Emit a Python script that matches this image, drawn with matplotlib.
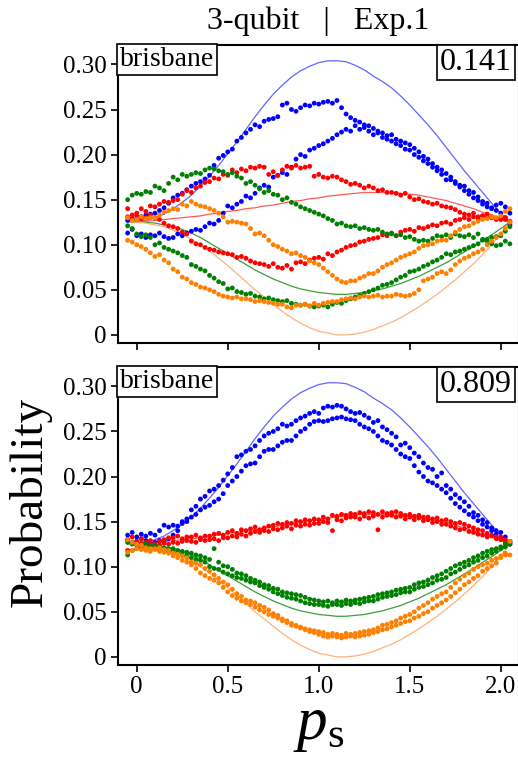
import numpy as np
import matplotlib
matplotlib.use('Agg')
import matplotlib.pyplot as plt

plt.rcParams['font.family'] = 'Liberation Serif'
plt.rcParams['mathtext.fontset'] = 'custom'
plt.rcParams['mathtext.rm'] = 'Liberation Serif'
plt.rcParams['mathtext.it'] = 'Liberation Serif:italic'

# measured probabilities (x1000), p_s from -0.05 to 2.05 in steps of 0.025
top_blue_a = [127, 129,
    128, 131, 133, 134, 135, 138, 141, 146,
    152, 155, 157, 161, 165, 168, 170, 173,
    177, 188, 196, 199, 203, 206, 215, 219,
    224, 228, 233, 231, 237, 239, 240, 242,
    255, 257, 250, 248, 252, 255, 254, 257,
    256, 258, 259, 257, 260, 252, 245, 241,
    238, 236, 233, 232, 229, 226, 224, 221,
    222, 217, 215, 213, 211, 207, 203, 198,
    195, 190, 186, 183, 179, 172, 168, 164,
    160, 156, 152, 149, 145, 142, 140, 144,
    146, 142, 135]
top_blue_b = [113, 117,
    110, 112, 108, 111, 110, 113, 109, 107,
    108, 112, 110, 113, 115, 117, 116, 120,
    124, 123, 127, 135, 143, 141, 145, 148,
    154, 152, 157, 163, 166, 164, 175, 177,
    180, 178, 186, 195, 200, 198, 205, 207,
    210, 212, 215, 218, 222, 225, 228, 226,
    232, 228, 230, 226, 222, 224, 219, 217,
    215, 212, 210, 206, 205, 200, 197, 193,
    190, 186, 182, 178, 172, 175, 170, 166,
    165, 160, 158, 153, 148, 146, 141, 138,
    135, 130, 122]
top_red_a = [140, 133,
    135, 140, 137, 143, 142, 145, 148, 147,
    149, 150, 156, 160, 158, 163, 165, 169,
    170, 174, 173, 178, 177, 183, 180, 184,
    182, 186, 185, 187, 186, 178, 181, 177,
    183, 187, 185, 188, 185, 186, 187, 176,
    178, 175, 174, 176, 175, 172, 170, 167,
    168, 166, 163, 165, 163, 160, 161, 158,
    158, 157, 155, 157, 153, 150, 151, 148,
    147, 145, 146, 143, 142, 141, 139, 136,
    134, 133, 135, 131, 132, 134, 130, 128,
    128, 130, 125]
top_red_b = [131, 128,
    132, 129, 130, 133, 130, 128, 124, 121,
    120, 118, 114, 112, 104, 101, 100, 97,
    95, 94, 92, 91, 90, 89, 86, 87,
    85, 82, 80, 79, 78, 76, 79, 75,
    74, 77, 73, 80, 81, 79, 83, 85,
    86, 84, 90, 88, 92, 94, 97, 99,
    100, 103, 104, 106, 107, 108, 111, 110,
    112, 110, 114, 116, 117, 115, 119, 118,
    120, 122, 121, 124, 125, 123, 127, 128,
    130, 128, 131, 129, 132, 130, 131, 129,
    130, 128, 126]
top_green_a = [150, 155,
    157, 156, 159, 158, 165, 163, 160, 168,
    175, 172, 178, 176, 178, 180, 179, 183,
    185, 184, 182, 181, 178, 180, 176, 174,
    168, 170, 166, 162, 158, 160, 156, 155,
    150, 152, 147, 145, 142, 140, 138, 136,
    134, 132, 129, 127, 123, 124, 121, 120,
    121, 118, 119, 117, 116, 117, 114, 112,
    113, 110, 111, 108, 109, 106, 104, 105,
    104, 107, 110, 109, 111, 108, 112, 110,
    109, 111, 108, 112, 106, 104, 101, 99,
    100, 104, 101]
top_green_b = [121, 118,
    112, 109, 111, 108, 100, 102, 97, 95,
    93, 91, 88, 86, 78, 76, 73, 71,
    66, 63, 59, 57, 51, 52, 48, 47,
    45, 46, 43, 42, 40, 41, 39, 38,
    37, 38, 35, 34, 33, 34, 32, 31,
    32, 33, 31, 34, 36, 35, 38, 40,
    42, 44, 46, 48, 50, 52, 55, 56,
    58, 61, 64, 66, 70, 71, 73, 76,
    78, 81, 83, 86, 90, 89, 92, 93,
    95, 97, 99, 101, 105, 106, 108, 109,
    110, 115, 120]
top_orange_a = [130, 127,
    128, 131, 129, 130, 130, 133, 136, 138,
    140, 139, 145, 143, 148, 145, 143, 142,
    140, 138, 135, 131, 125, 126, 125, 124,
    123, 118, 112, 113, 110, 105, 100, 98,
    95, 93, 90, 91, 88, 86, 82, 80,
    78, 74, 70, 66, 62, 59, 58, 60,
    60, 63, 65, 68, 68, 71, 75, 78,
    80, 83, 86, 88, 90, 92, 96, 99,
    100, 101, 104, 105, 105, 110, 114, 117,
    120, 121, 124, 126, 128, 129, 131, 130,
    132, 137, 140]
top_orange_b = [105, 103,
    100, 98, 95, 91, 87, 89, 83, 80,
    73, 70, 64, 62, 58, 56, 53, 52,
    50, 48, 45, 43, 42, 41, 42, 40,
    40, 39, 37, 38, 37, 36, 35, 34,
    34, 31, 30, 33, 33, 34, 32, 35,
    33, 35, 36, 37, 37, 39, 40, 41,
    40, 42, 43, 42, 43, 44, 42, 43,
    43, 45, 44, 43, 44, 46, 50, 60,
    62, 64, 68, 70, 68, 72, 78, 82,
    85, 87, 90, 92, 95, 100, 104, 108,
    112, 118, 125]

bot_blue_a = [135, 138,
    133, 136, 134, 137, 135, 140, 146, 144,
    146, 145, 150, 153, 163, 167, 175, 178,
    184, 186, 190, 196, 203, 210, 222, 224,
    228, 230, 234, 240, 245, 248, 250, 253,
    258, 256, 258, 262, 265, 267, 270, 272,
    270, 276, 278, 277, 279, 278, 275, 272,
    270, 271, 268, 265, 260, 262, 255, 252,
    248, 244, 235, 237, 232, 226, 222, 215,
    210, 208, 200, 204, 190, 186, 180, 176,
    172, 167, 160, 157, 152, 149, 143, 140,
    138, 133, 128]
bot_blue_b = [130, 127,
    128, 131, 129, 126, 127, 129, 128, 131,
    135, 140, 148, 150, 155, 158, 163, 166,
    168, 172, 175, 181, 190, 195, 200, 206,
    212, 214, 215, 222, 228, 230, 230, 234,
    238, 240, 240, 245, 250, 253, 258, 261,
    262, 261, 262, 264, 265, 266, 264, 263,
    262, 258, 255, 253, 250, 245, 240, 238,
    235, 230, 225, 222, 220, 212, 205, 200,
    195, 193, 190, 186, 182, 176, 170, 166,
    162, 158, 155, 151, 147, 144, 140, 136,
    132, 128, 125]
bot_red_a = [130, 133,
    128, 131, 127, 129, 125, 128, 130, 132,
    132, 134, 131, 133, 133, 135, 132, 134,
    134, 136, 137, 135, 138, 140, 137, 141,
    140, 142, 144, 141, 143, 145, 146, 148,
    147, 149, 148, 151, 150, 152, 151, 153,
    152, 155, 153, 157, 156, 158, 157, 159,
    158, 160, 159, 161, 160, 158, 161, 159,
    160, 161, 159, 157, 158, 156, 157, 155,
    155, 153, 154, 151, 152, 150, 148, 149,
    147, 145, 143, 141, 140, 137, 135, 133,
    133, 130, 128]
bot_red_b = [118, 126,
    124, 126, 123, 125, 122, 124, 126, 125,
    127, 126, 128, 129, 128, 127, 130, 129,
    130, 131, 129, 132, 132, 134, 133, 136,
    134, 137, 139, 138, 140, 139, 142, 141,
    143, 145, 142, 146, 145, 147, 146, 148,
    148, 150, 149, 140, 152, 151, 154, 155,
    155, 153, 156, 154, 156, 141, 155, 157,
    157, 155, 156, 153, 155, 152, 154, 151,
    152, 149, 150, 147, 147, 145, 143, 141,
    142, 139, 138, 136, 135, 133, 134, 131,
    130, 128, 126]
bot_green_a = [127, 125,
    125, 124, 126, 123, 123, 122, 121, 120,
    120, 118, 117, 116, 115, 113, 112, 110,
    108, 120, 105, 101, 100, 97, 93, 92,
    90, 87, 85, 83, 80, 79, 76, 75,
    72, 71, 70, 69, 68, 66, 64, 63,
    62, 61, 62, 60, 62, 61, 63, 62,
    63, 64, 65, 66, 67, 69, 70, 71,
    72, 74, 75, 76, 77, 80, 82, 83,
    85, 88, 90, 92, 95, 98, 101, 103,
    105, 107, 110, 112, 115, 117, 119, 120,
    122, 125, 127]
bot_green_b = [113, 118,
    120, 121, 119, 120, 120, 118, 119, 117,
    117, 115, 113, 112, 110, 108, 107, 105,
    100, 98, 97, 94, 92, 90, 88, 87,
    85, 83, 82, 79, 77, 75, 72, 70,
    68, 66, 65, 64, 62, 60, 59, 58,
    58, 57, 56, 58, 58, 57, 59, 58,
    60, 59, 61, 62, 62, 64, 66, 67,
    68, 69, 71, 72, 72, 75, 77, 78,
    80, 82, 85, 86, 88, 92, 94, 97,
    100, 102, 105, 107, 110, 112, 115, 117,
    120, 122, 125]
bot_orange_a = [130, 127,
    125, 124, 121, 120, 120, 121, 119, 118,
    115, 114, 112, 110, 105, 104, 102, 98,
    95, 91, 87, 83, 80, 75, 70, 67,
    63, 62, 60, 57, 55, 52, 48, 46,
    42, 40, 37, 35, 33, 31, 30, 29,
    28, 27, 25, 26, 25, 24, 26, 25,
    26, 27, 28, 29, 30, 32, 35, 36,
    38, 40, 43, 45, 47, 50, 54, 57,
    60, 64, 67, 70, 72, 77, 82, 86,
    90, 93, 97, 100, 102, 104, 107, 109,
    112, 115, 128]
bot_orange_b = [116, 118,
    120, 119, 118, 117, 119, 117, 116, 115,
    112, 110, 107, 105, 102, 98, 93, 90,
    87, 85, 82, 77, 72, 68, 65, 62,
    60, 58, 55, 52, 50, 47, 45, 43,
    40, 38, 35, 34, 32, 30, 28, 27,
    25, 23, 22, 23, 22, 21, 22, 23,
    22, 23, 24, 25, 27, 28, 30, 31,
    33, 35, 37, 39, 40, 43, 45, 48,
    50, 54, 57, 60, 63, 67, 71, 75,
    80, 83, 87, 90, 95, 98, 101, 104,
    110, 113, 113]

# theory curves (x1000), p_s from -0.05 to 2.05 in steps of 0.05
th_blue = [125, 126, 127, 130, 134, 140, 147, 155, 165, 176, 188, 201, 214, 228, 242,
           255, 267, 277, 286, 293, 298, 302, 304, 304, 303, 299, 294, 287, 281, 274,
           265, 255, 244, 233, 221, 208, 195, 182, 170, 158, 146, 135, 125]
th_red = [125, 126, 126, 127, 128, 129, 130, 131, 132, 134, 135, 137, 138, 140, 141,
          143, 144, 146, 148, 149, 151, 152, 154, 155, 156, 157, 158, 158, 158, 158,
          157, 156, 155, 153, 151, 149, 146, 143, 140, 136, 133, 129, 125]
th_green = [125, 125, 125, 124, 122, 120, 117, 113, 108, 102, 96, 90, 84, 78, 72,
            67, 62, 58, 54, 51, 49, 47, 46, 45, 45, 46, 47, 49, 51, 54,
            57, 61, 65, 70, 75, 80, 86, 92, 98, 105, 111, 118, 125]
th_orange = [125, 125, 124, 122, 120, 116, 112, 106, 100, 93, 85, 77, 68, 59, 50,
             42, 34, 26, 19, 13, 8, 4, 2, 0, 0, 1, 3, 6, 10, 14,
             19, 25, 31, 38, 45, 53, 61, 70, 79, 89, 100, 112, 125]

devices = ['brisbane', 'brisbane']
scores = ['0.141', '0.809']

ps = np.linspace(-0.05, 2.05, 85)
ps_th = np.linspace(-0.05, 2.05, 43)

cols = {'blue': '#0000ff', 'red': '#ff0000', 'green': '#008000', 'orange': '#ff8000'}
line_cols = {'blue': '#6464ff', 'red': '#ff5a5a', 'green': '#3c9e3c', 'orange': '#ffb27a'}
theory = {'blue': th_blue, 'red': th_red, 'green': th_green, 'orange': th_orange}

panels = [
    {'blue': [top_blue_a, top_blue_b], 'red': [top_red_a, top_red_b],
     'green': [top_green_a, top_green_b], 'orange': [top_orange_a, top_orange_b]},
    {'blue': [bot_blue_a, bot_blue_b], 'red': [bot_red_a, bot_red_b],
     'green': [bot_green_a, bot_green_b], 'orange': [bot_orange_a, bot_orange_b]},
]

fig = plt.figure(figsize=(5.18, 7.66), dpi=100)
ax_top = fig.add_axes([0.2278, 0.5522, 0.7741, 0.389])
ax_bot = fig.add_axes([0.2278, 0.1319, 0.7741, 0.389])

for ax, data, dev, score in zip([ax_top, ax_bot], panels, devices, scores):
    for key in ['blue', 'red', 'green', 'orange']:
        ax.plot(ps_th, np.array(theory[key]) / 1000, color=line_cols[key], lw=0.9, zorder=2)
    for key in ['blue', 'red', 'green', 'orange']:
        for series in data[key]:
            ax.scatter(ps, np.array(series) / 1000, s=12, color=cols[key],
                       edgecolors='none', zorder=3)
    ax.set_xlim(-0.103, 2.1)
    ax.set_ylim(-0.009, 0.3215)
    ax.set_yticks([0, 0.05, 0.10, 0.15, 0.20, 0.25, 0.30])
    ax.set_yticklabels(['0', '0.05', '0.10', '0.15', '0.20', '0.25', '0.30'])
    ax.set_xticks([0, 0.5, 1.0, 1.5, 2.0])
    ax.set_xticklabels(['0', '0.5', '1.0', '1.5', '2.0'])
    ax.tick_params(direction='out', length=5, width=1.2, labelsize=18, pad=3)
    for sp in ax.spines.values():
        sp.set_linewidth(1.5)
    ax.text(0.004, 0.994, dev, transform=ax.transAxes, ha='left', va='top', fontsize=20,
            bbox=dict(boxstyle='square,pad=0.1', fc='white', ec='black', lw=1.2), zorder=5)
    ax.text(0.982, 0.99, score, transform=ax.transAxes, ha='right', va='top', fontsize=23,
            bbox=dict(boxstyle='square,pad=0.1', fc='white', ec='black', lw=1.2), zorder=5)

ax_top.tick_params(labelbottom=False)

fig.text(0.615, 0.972, '3-qubit   |   Exp.1', ha='center', va='center', fontsize=23)
fig.text(0.058, 0.345, 'Probability', rotation=90, ha='center', va='center', fontsize=34)
fig.text(0.615, 0.052, r'$p_\mathrm{s}$', ha='center', va='center', fontsize=44)

fig.savefig('out.png', dpi=100)
